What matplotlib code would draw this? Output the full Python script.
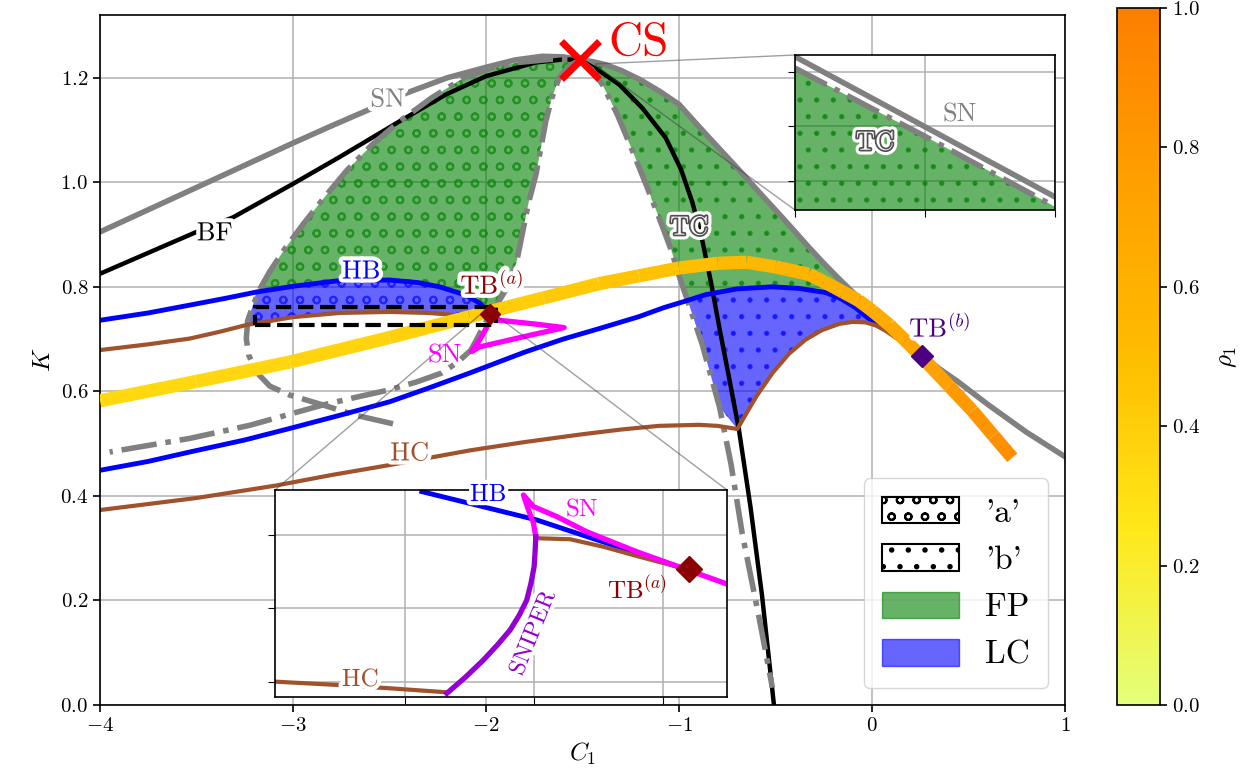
import numpy as np
import matplotlib
matplotlib.use('Agg')
import matplotlib.pyplot as plt
import matplotlib.patheffects as pe
from matplotlib.collections import LineCollection
from matplotlib.patches import Patch, Rectangle
from matplotlib.cm import ScalarMappable
from matplotlib.colors import Normalize

plt.rcParams.update({
    'font.family': 'serif',
    'font.serif': ['cmr10'],
    'mathtext.fontset': 'cm',
    'axes.formatter.use_mathtext': True,
    'hatch.linewidth': 1.5,
    'axes.linewidth': 1.2,
})

# ---- special points ----
CS = (-1.515, 1.234)
TBa = (-1.978, 0.7477)
TBb = (0.261, 0.668)

# ---- saddle-node (grey, solid) ----
SN_C = np.array([-4.0, -3.5, -3.0, -2.8, -2.6, -2.41, -2.2, -2.0, -1.85, -1.71, -1.6, -1.515,
                 -1.45, -1.38, -1.3, -1.2, -1.1, -1.0, -0.9, -0.828, -0.74, -0.655, -0.57,
                 -0.483, -0.4, -0.328, -0.25, -0.17, -0.1, 0.0, 0.08, 0.15, 0.261, 0.35,
                 0.44, 0.6, 0.8, 1.0])
SN_K = np.array([0.905, 0.99, 1.075, 1.108, 1.14, 1.171, 1.2, 1.22, 1.234, 1.241, 1.24, 1.234,
                 1.231, 1.225, 1.214, 1.196, 1.174, 1.149, 1.108, 1.079, 1.044, 1.01, 0.975,
                 0.94, 0.906, 0.876, 0.845, 0.815, 0.79, 0.756, 0.73, 0.708, 0.668, 0.643,
                 0.62, 0.575, 0.522, 0.475])

# ---- branch points (black) ----
BF_C = np.array([-4.0, -3.5, -3.31, -3.0, -2.76, -2.446, -2.207, -2.0, -1.745, -1.6, -1.515,
                 -1.42, -1.31, -1.19, -1.069, -0.99, -0.931, -0.88, -0.835, -0.79, -0.74,
                 -0.69, -0.63, -0.57, -0.508])
BF_K = np.array([0.825, 0.905, 0.933, 0.997, 1.048, 1.117, 1.168, 1.203, 1.229, 1.235, 1.234,
                 1.215, 1.187, 1.142, 1.085, 1.025, 0.962, 0.89, 0.81, 0.72, 0.625,
                 0.528, 0.38, 0.21, 0.0])

# ---- transcritical (grey, dash-dot) ----
TC_loop_C = np.array([-2.482, -2.672, -2.845, -3.017, -3.12, -3.19, -3.23, -3.242, -3.235,
                      -3.207, -3.17, -3.121, -3.04, -2.945, -2.84, -2.723, -2.59, -2.446,
                      -2.28, -2.114, -1.97, -1.838, -1.67, -1.515])
TC_loop_K = np.array([0.538, 0.554, 0.574, 0.593, 0.61, 0.637, 0.67, 0.701, 0.735,
                      0.765, 0.797, 0.829, 0.874, 0.921, 0.97, 1.022, 1.072, 1.117,
                      1.162, 1.2, 1.219, 1.229, 1.235, 1.234])
TC_left_C = np.array([-1.515, -1.57, -1.621, -1.66, -1.69, -1.741, -1.78, -1.81, -1.84,
                      -1.865, -1.9, -1.94, -1.978, -2.02, -2.05, -2.08, -2.15, -2.23,
                      -2.36, -2.5, -2.67, -2.845, -3.03, -3.225, -3.535, -3.95])
TC_left_K = np.array([1.234, 1.222, 1.2, 1.16, 1.117, 1.015, 0.96, 0.905, 0.85,
                      0.82, 0.793, 0.768, 0.7477, 0.72, 0.698, 0.678, 0.655, 0.635,
                      0.618, 0.603, 0.589, 0.574, 0.555, 0.535, 0.51, 0.484])
TC_right_C = np.array([-1.515, -1.45, -1.397, -1.32, -1.241, -1.17, -1.103, -1.04, -0.99,
                       -0.955, -0.88, -0.79, -0.73, -0.672, -0.585, -0.516])
TC_right_K = np.array([1.234, 1.215, 1.187, 1.13, 1.06, 0.995, 0.932, 0.87, 0.81,
                       0.773, 0.69, 0.57, 0.46, 0.327, 0.167, 0.033])

# ---- Hopf (blue) ----
HB_up_C = np.array([-4.0, -3.75, -3.535, -3.35, -3.19, -3.0, -2.759, -2.5, -2.35, -2.241,
                    -2.103, -2.03, -1.978])
HB_up_K = np.array([0.736, 0.75, 0.765, 0.778, 0.79, 0.801, 0.812, 0.813, 0.808, 0.8,
                    0.784, 0.768, 0.7477])
HB_low_C = np.array([-4.0, -3.75, -3.535, -3.25, -3.017, -2.75, -2.5, -2.3, -2.085, -1.8,
                     -1.6, -1.414, -1.207, -1.08, -0.955, -0.862, -0.7, -0.516, -0.38,
                     -0.24, -0.16, -0.085, -0.02, 0.054, 0.157, 0.261])
HB_low_K = np.array([0.449, 0.466, 0.484, 0.507, 0.529, 0.555, 0.58, 0.606, 0.635, 0.675,
                     0.7, 0.72, 0.743, 0.76, 0.774, 0.785, 0.796, 0.8, 0.797,
                     0.789, 0.777, 0.76, 0.74, 0.722, 0.697, 0.668])

# ---- homoclinic (brown) ----
HC_up_C = np.array([-4.0, -3.75, -3.535, -3.38, -3.242, -3.0, -2.759, -2.5, -2.3, -2.155,
                    -2.05, -1.978])
HC_up_K = np.array([0.679, 0.69, 0.701, 0.714, 0.727, 0.742, 0.75, 0.752, 0.75, 0.746,
                    0.744, 0.7477])
HC_C = np.array([-4.0, -3.5, -3.086, -2.8, -2.5, -2.085, -1.8, -1.5, -1.3, -1.104, -0.896,
                 -0.8, -0.698, -0.66, -0.6, -0.516, -0.43, -0.344, -0.26, -0.171, -0.1,
                 -0.033, 0.02, 0.071, 0.157, 0.261])
HC_K = np.array([0.373, 0.396, 0.42, 0.44, 0.459, 0.487, 0.503, 0.518, 0.527, 0.534, 0.536,
                 0.534, 0.528, 0.552, 0.59, 0.635, 0.672, 0.699, 0.717, 0.729, 0.733,
                 0.732, 0.726, 0.716, 0.694, 0.668])
HC_corner = 12

# ---- saddle-node near TB(a) (magenta) ----
SNa_C = np.array([-1.978, -1.931, -1.75, -1.595, -1.8, -2.034, -2.075, -2.03, -2.0])
SNa_K = np.array([0.7477, 0.736, 0.729, 0.722, 0.705, 0.685, 0.676, 0.700, 0.72])

# ---- branch coloured by rho_1 ----
R_C = np.array([-4.0, -3.5, -3.017, -2.5, -2.085, -1.7, -1.414, -1.207, -1.0, -0.8, -0.65,
                -0.5, -0.328, -0.25, -0.15, -0.07, 0.002, 0.09, 0.174, 0.26, 0.4, 0.52,
                0.63, 0.727])
R_K = np.array([0.582, 0.619, 0.656, 0.703, 0.743, 0.779, 0.806, 0.821, 0.836, 0.845, 0.847,
                0.838, 0.824, 0.81, 0.79, 0.774, 0.754, 0.727, 0.697, 0.665, 0.61, 0.563,
                0.515, 0.473])
R_rho = np.array([0.34, 0.35, 0.36, 0.38, 0.40, 0.42, 0.44, 0.46, 0.48, 0.51, 0.53,
                  0.55, 0.58, 0.595, 0.61, 0.625, 0.64, 0.665, 0.69, 0.72, 0.77, 0.82,
                  0.86, 0.90])

BOX_C = (-3.198, -1.948)
BOX_K = (0.727, 0.762)

# ---- zoom near TB(a) ----
zHB_C = np.array([-1.99871, -1.98979, -1.97843])
zHB_K = np.array([0.75295, 0.75102, 0.74773])
zSN_C = np.array([-1.97506, -1.97843, -1.98204, -1.98592, -1.98824, -1.99005, -1.99083,
                  -1.99044, -1.99005, -1.98987])
zSN_K = np.array([0.74667, 0.74773, 0.74886, 0.75022, 0.75125, 0.75193, 0.75272,
                  0.75170, 0.75080, 0.74988])
zSNIPER_C = np.array([-1.98987, -1.98993, -1.99, -1.99025, -1.99057, -1.99115, -1.99186,
                      -1.99285, -1.99393, -1.9953, -1.99677])
zSNIPER_K = np.array([0.74988, 0.7488, 0.74784, 0.7467, 0.74558, 0.74455, 0.74354,
                      0.74252, 0.7415, 0.74035, 0.73923])
zHC_low_C = np.array([-2.01, -2.0053, -2.00116, -1.99677])
zHC_low_K = np.array([0.74002, 0.7398, 0.73957, 0.7393])
zHC_up_C = np.array([-1.98979, -1.98721, -1.98463, -1.98204, -1.97843])
zHC_up_K = np.array([0.74978, 0.74971, 0.7492, 0.74857, 0.74773])

# ---- zoom near CS ----
zSN2_C = np.array([-1.432, -1.430, -1.428])
zSN2_K = np.array([1.22628, 1.224995, 1.22371])
zTC2_C = np.array([-1.432, -1.430, -1.428])
zTC2_K = np.array([1.22607, 1.22482, 1.22353])

GREY = '#808080'
BROWN = 'sienna'
cmap = plt.get_cmap('Wistia')


def halo(lw=5):
    return [pe.withStroke(linewidth=lw, foreground='white')]


def outlined():
    return [pe.Stroke(linewidth=7, foreground='white'),
            pe.Stroke(linewidth=2.5, foreground='#505050'), pe.Normal()]


def region(ax, C, K, color, hatch):
    ax.fill(C, K, facecolor=color, edgecolor=color, alpha=0.6, lw=0,
            hatch=hatch, zorder=1)


fig = plt.figure(figsize=(12.55, 7.81), dpi=100)
ax = fig.add_axes([100 / 1255, 76 / 781, 965 / 1255, 690 / 781])

# regions bounded by the curves above
i_left = np.argmin(TC_loop_C)
idx = np.arange(len(TC_loop_C))
loop_top = (idx >= i_left) & (TC_loop_K > 0.79)
loop_side = (idx >= i_left) & (TC_loop_K > 0.727) & (TC_loop_K <= 0.79)
i_tb = int(np.where(TC_left_C == TBa[0])[0][0])

g_left_C = np.concatenate([TC_loop_C[loop_top], TC_left_C[1:i_tb + 1], HB_up_C[4:][::-1]])
g_left_K = np.concatenate([TC_loop_K[loop_top], TC_left_K[1:i_tb + 1], HB_up_K[4:][::-1]])
region(ax, g_left_C, g_left_K, 'green', 'o')

b_left_C = np.concatenate([HB_up_C[4:], HC_up_C[4:][::-1], TC_loop_C[loop_side]])
b_left_K = np.concatenate([HB_up_K[4:], HC_up_K[4:][::-1], TC_loop_K[loop_side]])
region(ax, b_left_C, b_left_K, 'blue', 'o')

sn_sel = (SN_C >= CS[0]) & (SN_C <= TBb[0])
hb_sel = HB_low_C >= -0.955
tc_top = TC_right_K >= 0.773
g_right_C = np.concatenate([SN_C[sn_sel], HB_low_C[hb_sel][::-1], TC_right_C[tc_top][::-1]])
g_right_K = np.concatenate([SN_K[sn_sel], HB_low_K[hb_sel][::-1], TC_right_K[tc_top][::-1]])
region(ax, g_right_C, g_right_K, 'green', '.')

tc_mid = (TC_right_K < 0.773) & (TC_right_K > 0.53)
b_right_C = np.concatenate([HB_low_C[hb_sel], HC_C[HC_corner:][::-1], TC_right_C[tc_mid][::-1]])
b_right_K = np.concatenate([HB_low_K[hb_sel], HC_K[HC_corner:][::-1], TC_right_K[tc_mid][::-1]])
region(ax, b_right_C, b_right_K, 'blue', '.')

# curves
ax.plot(SN_C, SN_K, color=GREY, lw=4, zorder=2, solid_joinstyle='round')
ax.plot(BF_C, BF_K, color='black', lw=3.2, zorder=2, solid_joinstyle='round')
for c, k in [(TC_loop_C, TC_loop_K), (TC_left_C, TC_left_K), (TC_right_C, TC_right_K)]:
    ax.plot(c, k, color=GREY, lw=4, ls='-.', zorder=2)
ax.plot(HB_up_C, HB_up_K, color='blue', lw=3.5, zorder=2, solid_joinstyle='round')
ax.plot(HB_low_C, HB_low_K, color='blue', lw=3.5, zorder=2, solid_joinstyle='round')
ax.plot(HC_up_C, HC_up_K, color=BROWN, lw=3, zorder=2, solid_joinstyle='round')
ax.plot(HC_C, HC_K, color=BROWN, lw=3, zorder=2, solid_joinstyle='round')
ax.plot(SNa_C, SNa_K, color='magenta', lw=3.8, zorder=2, solid_joinstyle='round')

pts = np.column_stack([R_C, R_K]).reshape(-1, 1, 2)
segs = np.concatenate([pts[:-1], pts[1:]], axis=1)
lc = LineCollection(segs, cmap=cmap, norm=Normalize(0, 1), linewidths=9.5,
                    capstyle='butt', joinstyle='round', zorder=3)
lc.set_array(0.5 * (R_rho[:-1] + R_rho[1:]))
ax.add_collection(lc)

ax.add_patch(Rectangle((BOX_C[0], BOX_K[0]), BOX_C[1] - BOX_C[0], BOX_K[1] - BOX_K[0],
                       fill=False, ec='black', lw=3, ls='--', zorder=4))

ax.plot(*TBa, marker='D', ms=10, color='darkred', zorder=5)
ax.plot(*TBb, marker='D', ms=11, color='indigo', zorder=5)
ax.plot(*CS, marker='x', ms=28, mew=5, color='red', zorder=5)

# labels
lab = dict(fontsize=19, ha='center', va='center', zorder=6)
ax.text(-2.51, 1.158, 'SN', color=GREY, path_effects=halo(6), **lab)
ax.text(-3.406, 0.902, 'BF', color='black', path_effects=halo(6), **lab)
ax.text(-2.647, 0.829, 'HB', color='blue', path_effects=halo(6), **lab)
ax.text(-1.969, 0.804, r'TB$^{(a)}$', color='darkred', path_effects=halo(6), **lab)
ax.text(-2.216, 0.669, 'SN', color='magenta', **lab)
ax.text(-0.948, 0.913, 'TC', color='white', path_effects=outlined(), **lab)
ax.text(0.352, 0.722, r'TB$^{(b)}$', color='indigo', path_effects=halo(6), **lab)
ax.text(-2.396, 0.481, 'HC', color=BROWN, path_effects=halo(6), **lab)
ax.text(-1.368, 1.266, 'CS', color='red', fontsize=34, ha='left', va='center', zorder=6)

ax.set_xlim(-4, 1)
ax.set_ylim(0, 1.32)
ax.set_xticks(np.arange(-4, 2, 1))
ax.set_yticks(np.arange(0, 1.3, 0.2))
ax.tick_params(labelsize=15, width=1.2, length=5)
ax.grid(True, color='#b0b0b0', lw=1.1)
ax.set_axisbelow(True)
ax.set_xlabel(r'$C_1$', fontsize=18)
ax.set_ylabel(r'$K$', fontsize=18)

handles = [Patch(facecolor='white', edgecolor='black', hatch='o', lw=1.5, label="'a'"),
           Patch(facecolor='white', edgecolor='black', hatch='.', lw=1.5, label="'b'"),
           Patch(facecolor='green', edgecolor='green', alpha=0.6, label='FP'),
           Patch(facecolor='blue', edgecolor='blue', alpha=0.6, label='LC')]
leg = ax.legend(handles=handles, loc='lower right', fontsize=24, handlelength=2.3,
                handleheight=0.85, labelspacing=0.5, borderpad=0.55, framealpha=0.8)
leg.set_zorder(10)

# colourbar
cax = fig.add_axes([1117 / 1255, 76 / 781, 43 / 1255, 697 / 781])
cb = fig.colorbar(ScalarMappable(norm=Normalize(0, 1), cmap=cmap), cax=cax)
cb.set_ticks(np.arange(0, 1.01, 0.2))
cb.ax.tick_params(labelsize=15, width=1.2, length=5)
cb.set_label(r'$\rho_1$', fontsize=18, labelpad=12)

# zoom around TB(a)
axb = fig.add_axes([275 / 1255, 84 / 781, 452 / 1255, 207 / 781])
axb.plot(zHB_C, zHB_K, color='blue', lw=3.5, zorder=2)
axb.plot(zHC_low_C, zHC_low_K, color=BROWN, lw=3, zorder=2)
axb.plot(zHC_up_C, zHC_up_K, color=BROWN, lw=3, zorder=2)
axb.plot(zSN_C, zSN_K, color='magenta', lw=3.8, zorder=2, solid_joinstyle='round')
axb.plot(zSNIPER_C, zSNIPER_K, color='darkviolet', lw=3.8, zorder=2, solid_joinstyle='round')
axb.plot(*TBa, marker='D', ms=13, color='darkred', zorder=5)
axb.text(-1.99357, 0.75272, 'HB', color='blue', fontsize=18, ha='center', va='center', path_effects=halo(6))
axb.text(-1.98628, 0.7517, 'SN', color='magenta', fontsize=18, ha='center', va='center')
axb.text(-1.98202, 0.74626, r'TB$^{(a)}$', color='darkred', fontsize=18, ha='center', va='center')
axb.text(-1.99008, 0.74333, 'SNIPER', color='darkviolet', fontsize=17, ha='center', va='center',
         rotation=68, path_effects=halo(6))
axb.text(-2.00349, 0.74014, 'HC', color=BROWN, fontsize=18, ha='center', va='center', path_effects=halo(6))
axb.set_xlim(-2.0101, -1.97504)
axb.set_ylim(0.73898, 0.75306)
axb.set_xticks([-2.00, -1.99, -1.98])
axb.set_yticks([0.740, 0.745, 0.750])
axb.tick_params(labelbottom=False, labelleft=False, length=5)
axb.grid(True, color='#b0b0b0', lw=1.1)
axb.set_axisbelow(True)
ax.indicate_inset_zoom(axb, edgecolor='0.25', lw=1.0)

# zoom near the cusp
axt = fig.add_axes([795 / 1255, 571 / 781, 260 / 1255, 155 / 781])
axt.set_xlim(-1.432, -1.428)
axt.set_ylim(1.22347, 1.22631)
axt.fill_between(zTC2_C, zTC2_K, 1.22347, facecolor='green', edgecolor='green', alpha=0.6,
                 lw=0, hatch='.', zorder=1)
axt.plot(zSN2_C, zSN2_K, color=GREY, lw=4, zorder=2)
axt.plot(zTC2_C, zTC2_K, color=GREY, lw=4, ls='-.', zorder=2)
axt.text(-1.43077, 1.2247, 'TC', color='white', fontsize=19, ha='center', va='center', path_effects=outlined())
axt.text(-1.42946, 1.22521, 'SN', color=GREY, fontsize=19, ha='center', va='center')
axt.set_xticks([-1.432, -1.430, -1.428])
axt.set_yticks([1.224, 1.225, 1.226])
axt.tick_params(labelbottom=False, labelleft=False, length=5)
axt.grid(True, color='#b0b0b0', lw=1.1)
axt.set_axisbelow(True)
ax.indicate_inset_zoom(axt, edgecolor='0.25', lw=1.0)

fig.savefig('out.png', dpi=100)
